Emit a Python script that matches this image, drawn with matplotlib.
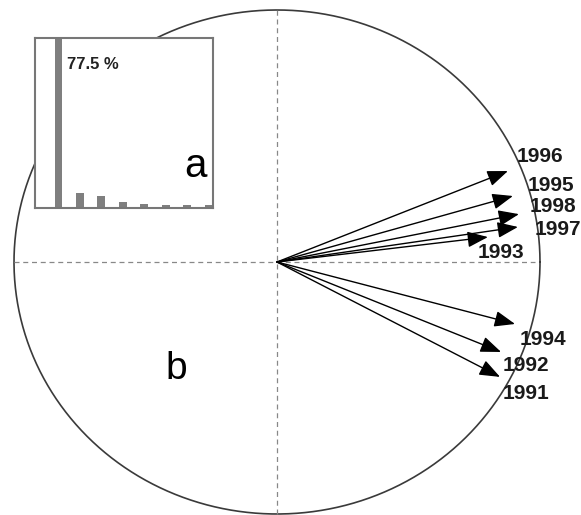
import numpy as np
import matplotlib
matplotlib.use("Agg")
import matplotlib.pyplot as plt

# Data
years = ["1996", "1995", "1998", "1997", "1993", "1994", "1992", "1991"]
load_x = [0.878, 0.897, 0.920, 0.916, 0.802, 0.905, 0.852, 0.848]
load_y = [0.361, 0.262, 0.190, 0.139, 0.099, -0.246, -0.357, -0.456]
# label anchor (left, center)
lab_x = [0.913, 0.954, 0.962, 0.981, 0.764, 0.924, 0.859, 0.859]
lab_y = [0.417, 0.302, 0.222, 0.127, 0.036, -0.306, -0.409, -0.520]

eig_pct = [77.5, 6.8, 5.5, 2.7, 2.0, 1.5, 1.5, 1.2]

plt.rcParams['font.family'] = ['Liberation Sans', 'DejaVu Sans']

W, H = 581, 515
fig = plt.figure(figsize=(W/100, H/100), dpi=100)
ax = fig.add_axes([0, 0, 1, 1])
cx, cy = 277, 262
rx, ry = 263, 252
ax.set_xlim(-cx/rx, (W-cx)/rx)
ax.set_ylim(-(H-cy)/ry, cy/ry)
ax.axis('off')

t = np.linspace(0, 2*np.pi, 400)
ax.plot(np.cos(t), np.sin(t), color='#3a3a3a', lw=1.2)
ax.plot([-1, 0.98], [0, 0], color='#888888', lw=0.9, ls=(0, (4, 3)))
ax.plot([0, 0], [-1, 1], color='#888888', lw=0.9, ls=(0, (4, 3)))

for x, y in zip(load_x, load_y):
    ax.annotate('', xy=(x, y), xytext=(0, 0),
                arrowprops=dict(arrowstyle='-|>,head_length=0.9,head_width=0.35',
                                color='black', lw=1.0, mutation_scale=14,
                                shrinkA=0, shrinkB=0))
for yr, x, y in zip(years, lab_x, lab_y):
    ax.text(x, y, yr, fontsize=15, fontweight='bold', color='#1a1a1a',
            ha='left', va='center')

ax.text((165-cx)/rx, (cy-369)/ry, 'b', fontsize=28, ha='left', va='center')

# Inset
ia = fig.add_axes([35/W, (H-208)/H, (213-35)/W, (208-38)/H])
ia.bar(range(len(eig_pct)), eig_pct, width=0.36, color='#7f7f7f')
ia.set_xlim(-1.09, 7.2)
ia.set_ylim(0, 77.5)
ia.set_xticks([]); ia.set_yticks([])
for s in ia.spines.values():
    s.set_color('#777777'); s.set_linewidth(1.5)
ia.text(0.18, 0.845, '77.5 %', transform=ia.transAxes, fontsize=12,
        fontweight='bold', color='#222222', ha='left', va='center')
ia.text(0.84, 0.245, 'a', transform=ia.transAxes, fontsize=29,
        ha='left', va='center')

fig.savefig('out.png', dpi=100)
